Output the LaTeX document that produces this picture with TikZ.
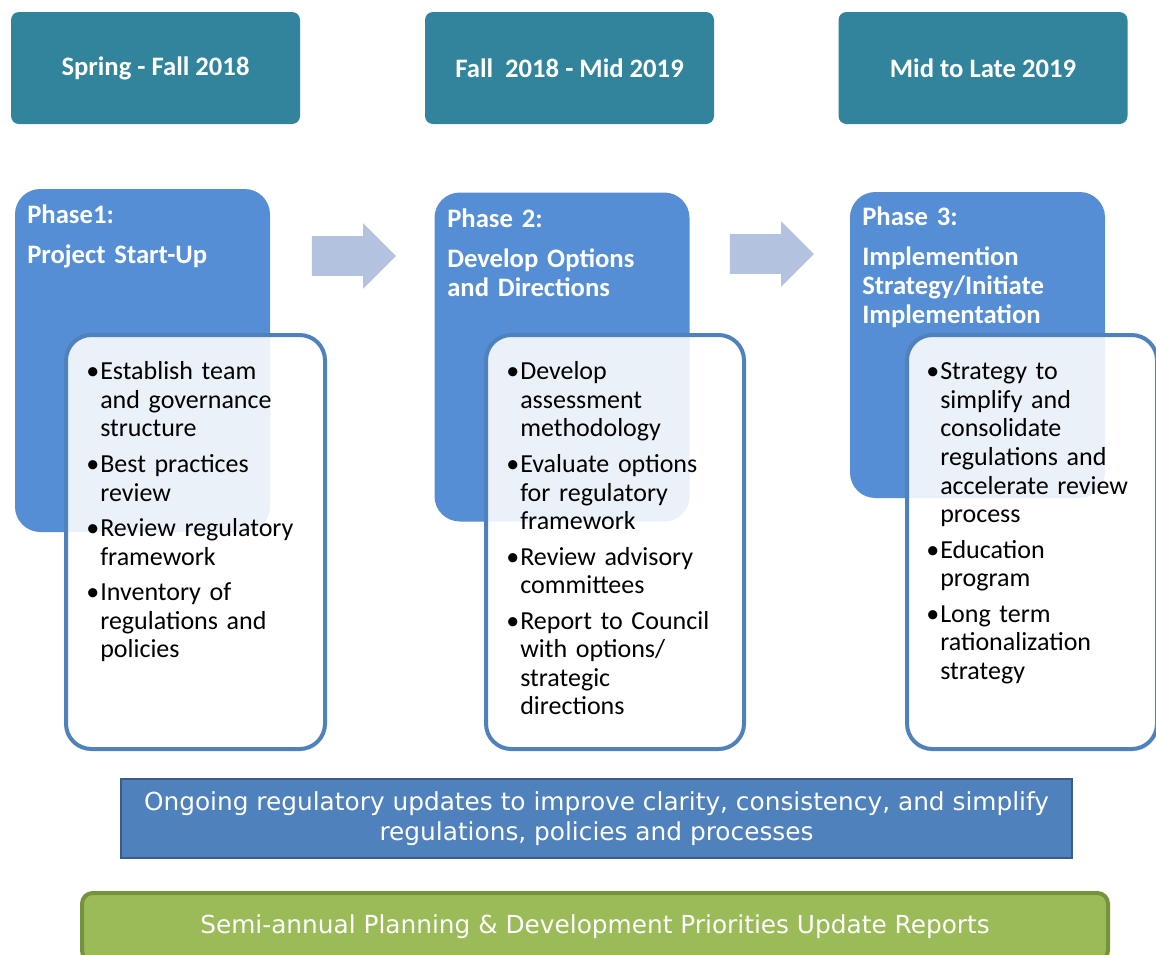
\documentclass[tikz,border=0pt]{standalone}
\usepackage{fontspec}
\setmainfont{Carlito}
\newfontfamily\widefont{DejaVu Sans}
\usepackage{xcolor}
\usepackage{tikz}
\usetikzlibrary{shapes.arrows}

\definecolor{dateteal}{HTML}{31849B}
\definecolor{phaseblue}{HTML}{558ED5}
\definecolor{listblue}{HTML}{4F81BD}
\definecolor{arrowblue}{HTML}{B3C2DE}
\definecolor{ongoingfill}{HTML}{4F81BD}
\definecolor{ongoingedge}{HTML}{385D8A}
\definecolor{reportfill}{HTML}{9BBB59}
\definecolor{reportedge}{HTML}{76923C}

% bullet hung to the left of the item text
\newcommand{\listpoint}{\par\noindent\llap{\makebox[10.5pt][l]{\textbullet}}}

\tikzset{
  datebox/.style={fill=dateteal, rounded corners=6pt, text=white,
    minimum width=289*0.75pt, minimum height=112*0.75pt,
    font=\fontsize{20}{24}\selectfont\bfseries},
  phasebox/.style={fill=phaseblue, rounded corners=19pt, minimum width=255*0.75pt},
  phasetitle/.style={anchor=north west, inner sep=0pt, text=white, text width=180pt,
    align=left, font=\fontsize{20}{21.4}\selectfont\bfseries,
    execute at begin node=\setlength{\parskip}{8.6pt}},
  listbox/.style={draw=listblue, line width=3pt, fill=white, fill opacity=0.88,
    rounded corners=19pt, minimum height=414*0.75pt},
  listtext/.style={anchor=north west, inner sep=0pt, text width=180pt, align=left,
    font=\fontsize{19.5}{21.4}\selectfont,
    execute at begin node=\setlength{\parskip}{5.3pt}},
  blockarrow/.style={single arrow, fill=arrowblue, inner xsep=0pt, inner ysep=19.5*0.75pt,
    minimum height=84*0.75pt, single arrow head extend=13*0.75pt},
  bandtext/.style={text=white, align=center,
    font=\widefont\fontsize{18.6}{22.5}\selectfont},
}

\begin{document}
\begin{tikzpicture}[x=0.75pt,y=-0.75pt]
\clip (0,0) rectangle (1156,954);

% time spans
\node[datebox] (d1) at (155.5,68) {Spring - Fall 2018};
\node[datebox] (d2) at (569.5,68) {Fall~ 2018 - Mid 2019};
\node[datebox] (d3) at (983,68) {Mid to Late 2019};

% phases
\node[phasebox, minimum height=343*0.75pt] (p1) at (142.5,360.5) {};
\node[phasebox, minimum height=329*0.75pt] (p2) at (562,357) {};
\node[phasebox, minimum height=306*0.75pt] (p3) at (977.5,345) {};

\node[phasetitle] (p1title) at (27,205) {Phase1:\par Project Start-Up};
\node[phasetitle] (p2title) at (447,209) {Phase 2:\par Develop Options\newline and Directions};
\node[phasetitle] (p3title) at (862,207) {Phase 3:\par Implemention\newline Strategy/Initiate\newline Implementation};

\node[blockarrow] (a1) at (344,256) {};
\node[blockarrow] (a2) at (762,254) {};

% task lists
\node[listbox, minimum width=259*0.75pt] (l1) at (195.5,542) {};
\node[listbox, minimum width=258*0.75pt] (l2) at (615,542) {};
\node[listbox, minimum width=250*0.75pt] (l3) at (1032,542) {};

\node[listtext] (l1text) at (100,344) {%
  \listpoint Establish team\newline and governance\newline structure
  \listpoint Best practices\newline review
  \listpoint Review regulatory\newline framework
  \listpoint Inventory of\newline regulations and\newline policies};
\node[listtext] (l2text) at (520,344) {%
  \listpoint Develop\newline assessment\newline methodology
  \listpoint Evaluate options\newline for regulatory\newline framework
  \listpoint Review advisory\newline committees
  \listpoint Report to Council\newline with options/\newline strategic\newline directions};
\node[listtext] (l3text) at (940,344) {%
  \listpoint Strategy to\newline simplify and\newline consolidate\newline regulations and\newline accelerate review\newline process
  \listpoint Education\newline program
  \listpoint Long term\newline rationalization\newline strategy};

% bands across all phases
\node[bandtext, fill=ongoingfill, draw=ongoingedge, line width=1.5pt,
  minimum width=951*0.75pt, minimum height=79*0.75pt] (ongoing) at (596.5,818.5)
  {Ongoing regulatory updates to improve clarity, consistency, and simplify\\
   regulations, policies and processes};
\node[bandtext, fill=reportfill, draw=reportedge, line width=3pt, rounded corners=8pt,
  minimum width=1026*0.75pt, minimum height=68*0.75pt] (reports) at (595,927)
  {Semi-annual Planning \& Development Priorities Update Reports};
\end{tikzpicture}
\end{document}
